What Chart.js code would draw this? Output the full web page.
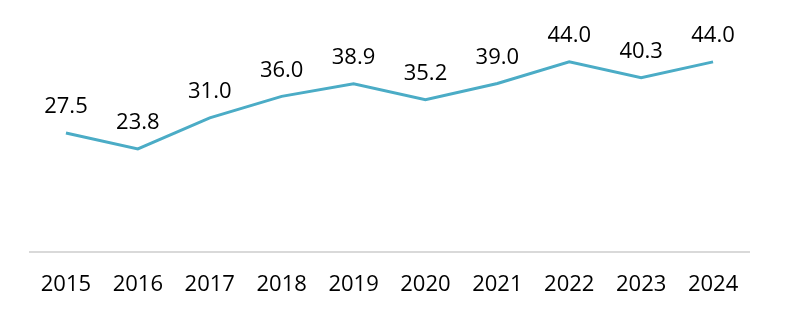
<!DOCTYPE html>
<html>
<head>
<meta charset="utf-8">
<script src="https://cdn.jsdelivr.net/npm/chart.js@4"></script>
<style>
  html, body { margin: 0; padding: 0; background: #fff; }
  #wrap { width: 796px; height: 321px; }
</style>
</head>
<body>
<div id="wrap"><canvas id="lineChart" width="796" height="321"></canvas></div>
<script>
// Chart data
const years = ['2015', '2016', '2017', '2018', '2019', '2020', '2021', '2022', '2023', '2024'];
const values = [27.5, 23.8, 31.0, 36.0, 38.9, 35.2, 39.0, 44.0, 40.3, 44.0];

const FONT = '"Open Sans", "Liberation Sans", sans-serif';

// draw the value above each point
const valueLabels = {
    id: 'valueLabels',
    afterDatasetsDraw(chart) {
        const ctx = chart.ctx;
        const meta = chart.getDatasetMeta(0);
        ctx.save();
        ctx.font = '22px ' + FONT;
        ctx.fillStyle = '#000';
        ctx.textAlign = 'center';
        ctx.textBaseline = 'middle';
        meta.data.forEach((pt, i) => {
            ctx.fillText(values[i].toFixed(1), pt.x, pt.y - 26);
        });
        ctx.restore();
    }
};

const ctx = document.getElementById('lineChart').getContext('2d');
new Chart(ctx, {
    type: 'line',
    data: {
        labels: years,
        datasets: [{
            data: values,
            borderColor: '#4bacc6',
            borderWidth: 3,
            pointRadius: 0,
            tension: 0,
            fill: false
        }]
    },
    options: {
        responsive: false,
        animation: false,
        layout: { padding: { left: 30, right: 47, top: 36, bottom: 3 } },
        plugins: { legend: { display: false }, tooltip: { enabled: false } },
        scales: {
            x: {
                offset: true,
                grid: { display: false, drawTicks: false },
                border: { display: true, color: '#d9d9d9', width: 2 },
                ticks: { color: '#000', font: { family: FONT, size: 22 }, padding: 20 }
            },
            y: {
                display: false,
                min: 0,
                max: 50
            }
        }
    },
    plugins: [valueLabels]
});
</script>
</body>
</html>
